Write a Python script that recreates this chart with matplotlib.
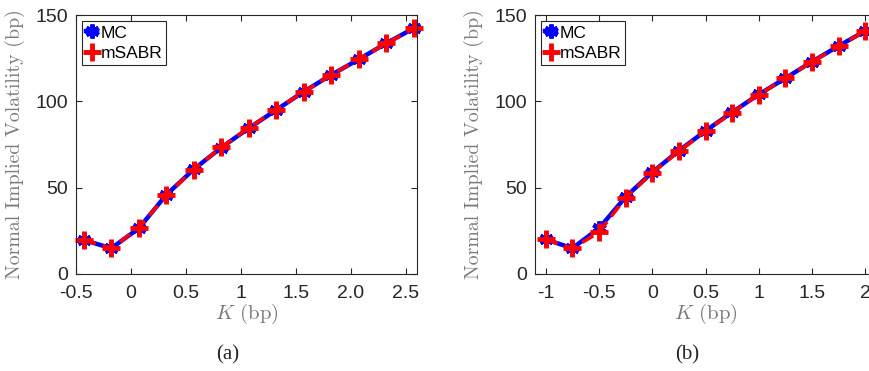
import matplotlib
matplotlib.use("Agg")
import matplotlib.pyplot as plt

plt.rcParams['mathtext.fontset'] = 'cm'
plt.rcParams['font.family'] = ['Liberation Sans', 'DejaVu Sans']

# panel (a)
k_a = [-0.43, -0.18, 0.07, 0.32, 0.57, 0.82, 1.07, 1.32, 1.57, 1.82, 2.07, 2.32, 2.57]
mc_a = [19.7, 14.9, 26.4, 45.8, 60.6, 73.2, 84.4, 95.0, 105.6, 115.3, 124.3, 133.6, 142.3]
msabr_a = [19.7, 14.9, 26.6, 45.6, 60.5, 73.3, 84.6, 95.2, 105.5, 115.2, 124.4, 133.5, 142.2]
xticks_a = [-0.5, 0, 0.5, 1, 1.5, 2.0, 2.5]
xticklabels_a = ['-0.5', '0', '0.5', '1', '1.5', '2.0', '2.5']

# panel (b)
k_b = [-1.0, -0.75, -0.5, -0.25, 0.0, 0.25, 0.5, 0.75, 1.0, 1.25, 1.5, 1.75, 2.0]
mc_b = [20.1, 14.9, 26.4, 44.6, 58.9, 71.4, 82.9, 93.7, 104.0, 113.4, 123.0, 132.1, 140.8]
msabr_b = [20.0, 14.9, 24.1, 44.2, 58.6, 71.1, 82.7, 93.5, 103.9, 113.3, 122.9, 132.0, 140.7]
xticks_b = [-1, -0.5, 0, 0.5, 1, 1.5, 2]
xticklabels_b = ['-1', '-0.5', '0', '0.5', '1', '1.5', '2']

W, H = 869, 371
fig = plt.figure(figsize=(W / 100, H / 100), dpi=100)

ax_a = fig.add_axes([76 / W, 97 / H, 341 / W, 259 / H])
ax_b = fig.add_axes([535 / W, 97 / H, 341 / W, 259 / H])

panels = [
    (ax_a, k_a, mc_a, msabr_a, xticks_a, xticklabels_a, (-0.5, 2.6), '(a)', 228),
    (ax_b, k_b, mc_b, msabr_b, xticks_b, xticklabels_b, (-1.1, 2.1), '(b)', 687),
]

for ax, k, mc, ms, xt, xtl, xl, cap, capx in panels:
    ax.plot(k, mc, color='blue', lw=3.2, marker=(6, 2, 0), ms=10, mew=3.2,
            label='MC', clip_on=False)
    ax.plot(k, ms, color='red', lw=2.6, ls='--', dashes=(3.5, 2), marker='+',
            ms=13, mew=3.5, label='mSABR', clip_on=False)
    ax.set_xlim(*xl)
    ax.set_ylim(0, 150)
    ax.set_xticks(xt)
    ax.set_xticklabels(xtl)
    ax.set_yticks([0, 50, 100, 150])
    ax.tick_params(direction='in', top=True, right=True, labelsize=14,
                   colors='#262626', length=4, width=0.8)
    ax.tick_params(axis='x', pad=8)
    ax.tick_params(axis='y', pad=6)
    for sp in ax.spines.values():
        sp.set_color('#262626')
        sp.set_linewidth(0.8)
    ax.set_ylabel('Normal Implied Volatility (bp)', family='cmr10',
                  fontsize=14.3, color='#7a7a7a')
    ax.yaxis.set_label_coords(-0.15, 0.5)
    ax.set_xlabel(r'$K$ (bp)', family='cmr10', fontsize=15, color='#7a7a7a',
                  labelpad=0)
    leg = ax.legend(loc='upper left', fontsize=12.5, handlelength=0.6,
                    handletextpad=0.2, borderpad=0.25, labelspacing=0.3,
                    borderaxespad=0.35, fancybox=False, framealpha=1)
    leg.get_frame().set_edgecolor('#262626')
    leg.get_frame().set_linewidth(0.8)
    fig.text(capx / W, 1 - 355 / H, cap, family='Liberation Serif', fontsize=15,
             color='#262626', ha='center', va='center')

fig.savefig('out.png', dpi=100)
